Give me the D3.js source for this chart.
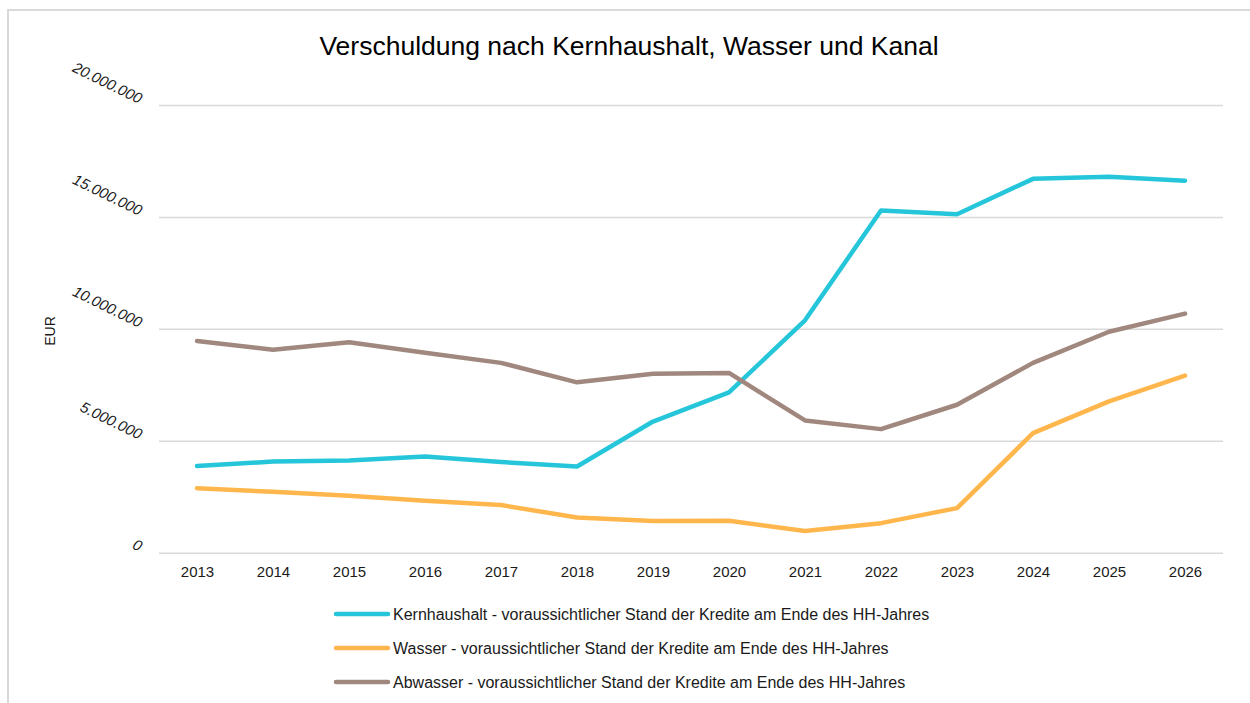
<!DOCTYPE html>
<html>
<head>
<meta charset="utf-8">
<script src="https://cdn.jsdelivr.net/npm/d3@7"></script>
<style>
  html, body { margin: 0; padding: 0; background: #fff; }
  svg { display: block; font-family: "Liberation Sans", Arial, sans-serif; }
</style>
</head>
<body>
<svg id="chart" width="1250" height="703"></svg>
<script>
// Debt levels (EUR) at year end
const years = ["2013","2014","2015","2016","2017","2018","2019","2020","2021","2022","2023","2024","2025","2026"];
const kernhaushalt = [3870000, 4070000, 4120000, 4300000, 4050000, 3850000, 5860000, 7160000, 10380000, 15290000, 15120000, 16700000, 16800000, 16620000];
const wasser = [2880000, 2720000, 2540000, 2320000, 2130000, 1570000, 1420000, 1430000, 970000, 1320000, 1990000, 5340000, 6760000, 7910000];
const abwasser = [9460000, 9070000, 9400000, 8930000, 8480000, 7610000, 7990000, 8030000, 5910000, 5520000, 6610000, 8480000, 9870000, 10680000];
const yTicks = [0, 5000000, 10000000, 15000000, 20000000];
const seriesNames = [
  "Kernhaushalt - voraussichtlicher Stand der Kredite am Ende des HH-Jahres",
  "Wasser - voraussichtlicher Stand der Kredite am Ende des HH-Jahres",
  "Abwasser - voraussichtlicher Stand der Kredite am Ende des HH-Jahres"
];
const seriesColors = ["#26C6DA", "#FFB74D", "#A1887F"];
const seriesValues = [kernhaushalt, wasser, abwasser];

const svg = d3.select("#chart");

// chart area frame
svg.append("path")
  .attr("d", "M8,712 L8,10 L1260,10")
  .attr("fill", "none")
  .attr("stroke", "#D9D9D9")
  .attr("stroke-width", 2);

const x = d3.scalePoint().domain(years).range([159, 1223]).padding(0.5);
const y = d3.scaleLinear().domain([0, 20000000]).range([552.7, 105]);

// horizontal gridlines
const grid = svg.append("g").attr("transform", "translate(159,0)")
  .call(d3.axisLeft(y).tickValues(yTicks).tickSize(-1064).tickFormat(""));
grid.select(".domain").remove();
grid.selectAll(".tick line").attr("stroke", "#D9D9D9").attr("stroke-width", 1.5);

// y tick labels, slanted
const fmt = v => d3.format(",")(v).replace(/,/g, ".");
svg.append("g").selectAll("text")
  .data(yTicks)
  .join("text")
  .attr("transform", d => `translate(139,${y(d) - 1}) rotate(26)`)
  .attr("text-anchor", "end")
  .attr("font-size", 15)
  .attr("font-style", "italic")
  .attr("fill", "#1a1a1a")
  .text(fmt);

// y axis title
svg.append("text")
  .attr("transform", "translate(55,331) rotate(-90)")
  .attr("text-anchor", "middle")
  .attr("font-size", 14)
  .attr("fill", "#1a1a1a")
  .text("EUR");

// x axis labels
const xAxis = svg.append("g").attr("transform", "translate(0,553)")
  .call(d3.axisBottom(x).tickSize(0).tickPadding(13));
xAxis.select(".domain").remove();
xAxis.selectAll("text").attr("font-size", 15).attr("fill", "#1a1a1a")
  .attr("font-family", "Liberation Sans, Arial, sans-serif");

// series lines
const line = d3.line().x((d, i) => x(years[i])).y(d => y(d));
svg.append("g").selectAll("path")
  .data(seriesValues)
  .join("path")
  .attr("d", line)
  .attr("fill", "none")
  .attr("stroke", (d, i) => seriesColors[i])
  .attr("stroke-width", 4.5)
  .attr("stroke-linejoin", "round")
  .attr("stroke-linecap", "round");

// title
svg.append("text")
  .attr("x", 629)
  .attr("y", 55)
  .attr("text-anchor", "middle")
  .attr("font-size", 26.5)
  .attr("fill", "#000")
  .text("Verschuldung nach Kernhaushalt, Wasser und Kanal");

// legend
const legend = svg.append("g").selectAll("g")
  .data(seriesNames)
  .join("g")
  .attr("transform", (d, i) => `translate(0,${614 + i * 34})`);
legend.append("line")
  .attr("x1", 336).attr("x2", 388)
  .attr("stroke", (d, i) => seriesColors[i])
  .attr("stroke-width", 4.5)
  .attr("stroke-linecap", "round");
legend.append("text")
  .attr("x", 393)
  .attr("y", 6)
  .attr("font-size", 16)
  .attr("fill", "#1a1a1a")
  .text(d => d);
</script>
</body>
</html>
